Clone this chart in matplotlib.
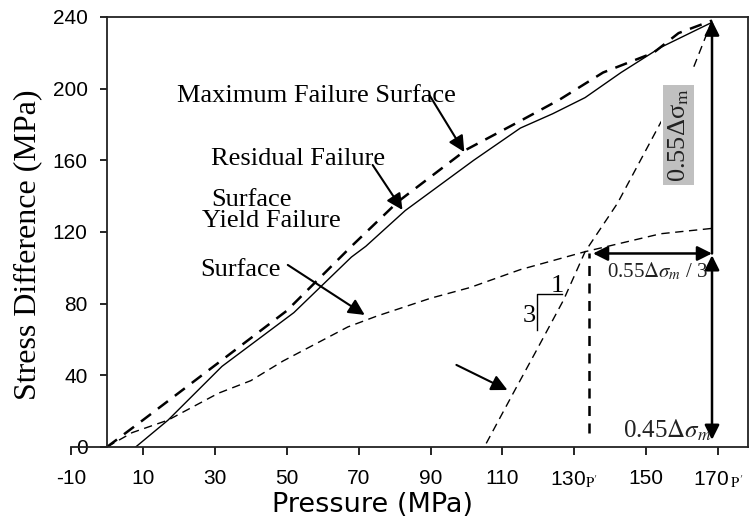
import matplotlib
matplotlib.use("Agg")
import matplotlib.pyplot as plt
from matplotlib.patches import Rectangle

plt.rcParams['mathtext.fontset'] = 'stix'
plt.rcParams['axes.unicode_minus'] = False

# Maximum failure surface (thick dashed)
p_max = [0, 10, 31, 50, 68, 81, 100, 115, 126, 138, 152, 159, 168.3]
q_max = [0, 15, 47, 76, 112, 137, 166, 182, 194, 209, 220, 231, 238]

# Residual failure surface (solid)
p_res = [8, 17, 32, 52, 68, 72, 83, 102, 115, 124, 133, 143, 154, 168.3]
q_res = [0, 15, 45, 75, 106, 112, 132, 160, 178, 186, 195, 209, 223, 237]

# Yield failure surface (thin dashed)
p_yld = [0, 7, 17, 31, 40, 49, 67, 75, 90, 101, 115, 133, 154, 168.3]
q_yld = [0, 8, 15, 30, 37, 48, 67, 73, 83, 89, 99, 109, 119, 122]

# steep line (slope 3:1)
p_stp = [105.5, 113, 119.5, 127, 133, 142, 154, 163, 168.3]
q_stp = [2, 30, 54, 82, 109, 136, 181, 211, 238]

p_prime = 134      # vertical dashed line
q_cross = 108      # level of the yield crossing
p_end = 168.3      # end pressure
q_top = 238
x_ticks = [-10, 10, 30, 50, 70, 90, 110, 130, 150, 170]
x_labels = ['-10', '10', '30', '50', '70', '90', '110',
            r"130$_{\mathrm{P'}}$", '150', r"170$\,_{\mathrm{P'}}$"]
y_ticks = [0, 40, 80, 120, 160, 200, 240]

serif = 'Liberation Serif'
sans = 'Liberation Sans'

fig = plt.figure(figsize=(7.53, 5.24), dpi=100)
ax = fig.add_axes([0.0943, 0.147, 0.899, 0.8206])
ax.set_xlim(-10, 178.3)
ax.set_ylim(0, 240)

ax.plot(p_max, q_max, color='k', lw=1.8, dashes=(5, 3.5))
ax.plot(p_res, q_res, color='k', lw=1.0)
ax.plot(p_yld, q_yld, color='k', lw=1.0, dashes=(6, 4))
ax.plot(p_stp, q_stp, color='k', lw=1.0, dashes=(6, 4))
ax.plot([p_prime, p_prime], [8, q_cross], color='k', lw=1.8, dashes=(4, 3))

# spines
for s in ['left', 'right', 'top', 'bottom']:
    ax.spines[s].set_color('#222222')
    ax.spines[s].set_linewidth(1.3)
ax.spines['left'].set_position(('data', 0))
ax.spines['top'].set_bounds(0, 178.3)

ax.set_xticks(x_ticks)
ax.set_xticklabels(x_labels)
ax.set_yticks(y_ticks)
ax.tick_params(axis='x', direction='out', length=6, width=1.2, pad=10, labelsize=15)
ax.tick_params(axis='y', direction='out', length=5, width=1.2, pad=9, labelsize=15)
for lab in ax.get_xticklabels() + ax.get_yticklabels():
    lab.set_fontfamily(sans)

ax.set_xlabel('Pressure (MPa)', fontfamily='DejaVu Sans', fontsize=19.5)
ax.set_ylabel('Stress Difference (MPa)', fontfamily=serif, fontsize=23)
ax.xaxis.set_label_coords(0.445, -0.135)
ax.yaxis.set_label_coords(-0.064, 0.47)
ax.xaxis.label.set_va('center')
ax.yaxis.label.set_va('center')

# labels with arrows
arrow = dict(arrowstyle='-|>', mutation_scale=24, lw=1.5, color='k', shrinkA=0, shrinkB=0)
fs = 19
ax.text(19.5, 196, 'Maximum Failure Surface', fontfamily=serif, fontsize=fs, va='center')
ax.annotate('', xy=(99.4, 164.6), xytext=(89.7, 196.4), arrowprops=arrow)

ax.text(29, 161, 'Residual Failure', fontfamily=serif, fontsize=fs, va='center')
ax.text(29, 138, 'Surface', fontfamily=serif, fontsize=fs, va='center')
ax.annotate('', xy=(82.2, 132.3), xytext=(73.9, 157.4), arrowprops=arrow)

ax.text(26.5, 126, 'Yield Failure', fontfamily=serif, fontsize=fs, va='center')
ax.text(26, 99, 'Surface', fontfamily=serif, fontsize=fs, va='center')
ax.annotate('', xy=(71.7, 73.7), xytext=(50.3, 101.6), arrowprops=arrow)

ax.annotate('', xy=(111.4, 31.8), xytext=(97.2, 45.8), arrowprops=arrow)

# slope triangle
ax.plot([119.7, 119.7, 126.7], [65.3, 85.4, 85.4], color='k', lw=1.0)
ax.text(125.3, 90, '1', fontfamily=serif, fontsize=19, ha='center', va='center')
ax.text(117.4, 73, '3', fontfamily=serif, fontsize=19, ha='center', va='center')

# dimension arrows
dim = dict(mutation_scale=22, lw=1.8, color='k', shrinkA=0, shrinkB=0)
ax.annotate('', xy=(135.2, q_cross), xytext=(p_end, q_cross),
            arrowprops=dict(arrowstyle='<|-|>', **dim))
ax.annotate('', xy=(p_end, q_top), xytext=(p_end, q_cross),
            arrowprops=dict(arrowstyle='-|>', **dim))
ax.annotate('', xy=(p_end, 4), xytext=(p_end, q_cross - 1),
            arrowprops=dict(arrowstyle='<|-|>', **dim))

ax.text(139.2, 98, r'0.55$\Delta\mathit{\sigma}_{m}$ / 3', fontfamily=serif, fontsize=15,
        va='center', ha='left', color='#222222')
ax.text(143.5, 9, r'0.45$\Delta\mathit{\sigma}_{m}$', fontfamily=serif, fontsize=18,
        va='center', ha='left', color='#222222')

ax.add_patch(Rectangle((154.2, 136), 9.4, 74.5, facecolor='white', edgecolor='none', zorder=3))
ax.text(158.9, 174, r'0.55Δσ$_\mathrm{m}$', fontfamily=serif, fontsize=19, rotation=90,
        ha='center', va='center', zorder=4, color='#222222',
        bbox=dict(boxstyle='square,pad=0.12', facecolor='#c0c0c0', edgecolor='none'))

fig.savefig('out.png', dpi=100)
